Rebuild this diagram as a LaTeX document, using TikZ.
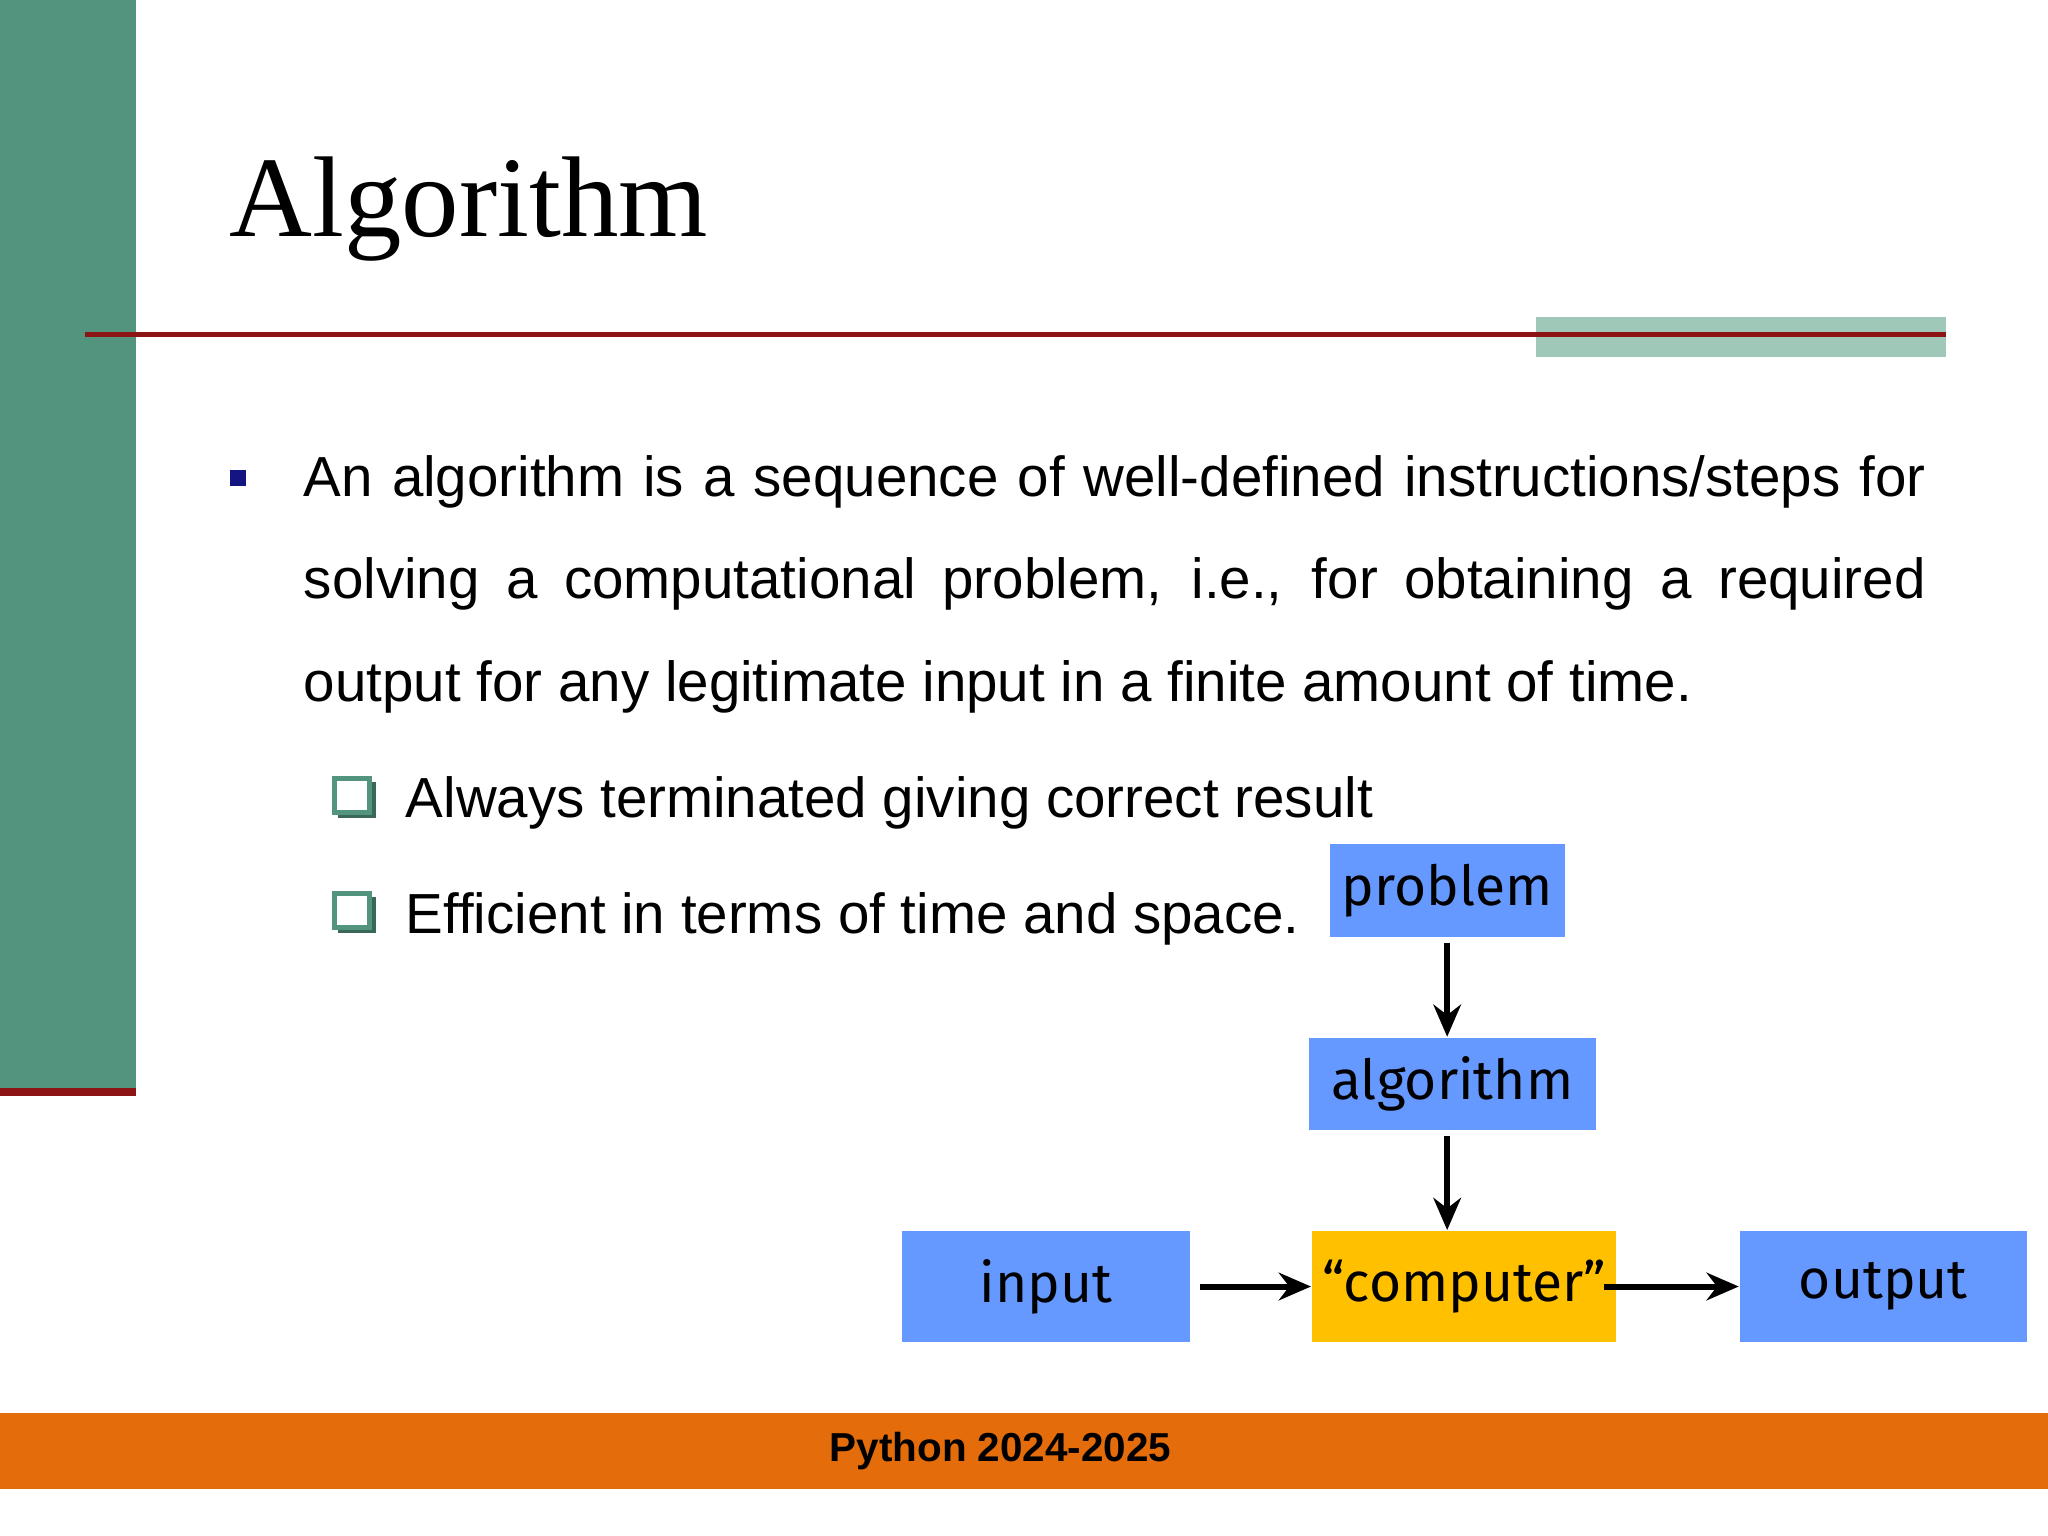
\documentclass[tikz,border=0pt]{standalone}
\usepackage{fontspec}
\setmainfont{Liberation Sans}
\newfontfamily\timesf{Liberation Serif}
\newfontfamily\boxf{Fira Sans}
\usetikzlibrary{arrows.meta}
\definecolor{sidegreen}{RGB}{83,148,126}
\definecolor{darkred}{RGB}{140,20,20}
\definecolor{lightgreen}{RGB}{160,200,185}
\definecolor{navy}{RGB}{20,20,130}
\definecolor{boxblue}{RGB}{102,153,255}
\definecolor{boxyellow}{RGB}{255,192,0}
\definecolor{footorange}{RGB}{228,108,10}
\definecolor{sqgreen}{RGB}{83,148,126}
\newcommand{\nohyph}{\lefthyphenmin=100\relax\hyphenpenalty=10000\relax}
\begin{document}
\begin{tikzpicture}[x=0.01cm,y=-0.01cm,
  fbox/.style={fill=boxblue,minimum width=#1,minimum height=0.71cm,inner sep=0,font=\boxf\fontsize{12}{14}\selectfont},
  arr/.style={-{Stealth[length=7pt,width=6pt]},line width=1.3pt},
  hsq/.style={draw=sqgreen,line width=1.2pt,fill=white}]
\useasboundingbox (0,0) rectangle (1568,1176);
\fill[white] (0,0) rectangle (1568,1176);
\fill[sidegreen] (0,0) rectangle (104,833);
\fill[darkred] (0,833) rectangle (104,839);
\node[anchor=base west,inner sep=0,font=\timesf\fontsize{25}{30}\selectfont] (title) at (175,181) {Algorithm};
\fill[lightgreen] (1176,243) rectangle (1490,273);
\draw[darkred,line width=1.2pt] (65,256) -- (1490,256);
\fill[navy] (176,360) rectangle (188,372);
\node[anchor=north west,inner sep=0,text width=12.41cm,align=justify,font=\fontsize{12.3}{22.3}\selectfont\nohyph] (para) at (232,348)
 {An algorithm is a sequence of well-defined instructions/steps for solving a computational problem, i.e., for obtaining a required output for any legitimate input in a finite amount of time.};
\foreach \yy in {596,684}{
 \fill[sqgreen!70!black] (259,\yy+3) rectangle (288,\yy+30);
 \draw[hsq] (256,\yy) rectangle (283,\yy+26);}
\node[anchor=base west,inner sep=0,font=\fontsize{12.3}{15}\selectfont] (s1) at (310,626) {Always terminated giving correct result};
\node[anchor=base west,inner sep=0,font=\fontsize{12.3}{15}\selectfont] (s2) at (310,715) {Efficient in terms of time and space.};
\node[fbox=1.8cm] (problem) at (1108,682) {problem};
\node[fbox=2.2cm] (algorithm) at (1112,830) {algorithm};
\node[fbox=2.2cm,minimum height=0.85cm] (input) at (801,985) {input};
\node[fbox=2.33cm,minimum height=0.85cm,fill=boxyellow] (computer) at (1121,985) {“computer”};
\node[fbox=2.2cm,minimum height=0.85cm] (output) at (1442,985) {output};
\draw[arr] ([yshift=-1pt]problem.south) -- (problem.south |- algorithm.north);
\draw[arr] ([yshift=-1pt]problem.south |- algorithm.south) -- (problem.south |- computer.north);
\draw[arr] ([xshift=2pt]input.east) -- (computer.west);
\draw[arr] ([xshift=-3pt]computer.east) -- (output.west);
\fill[footorange] (0,1082) rectangle (1568,1140);
\node[font=\bfseries\fontsize{8.8}{10}\selectfont] (foot) at (766,1111) {Python 2024-2025};
\end{tikzpicture}
\end{document}
